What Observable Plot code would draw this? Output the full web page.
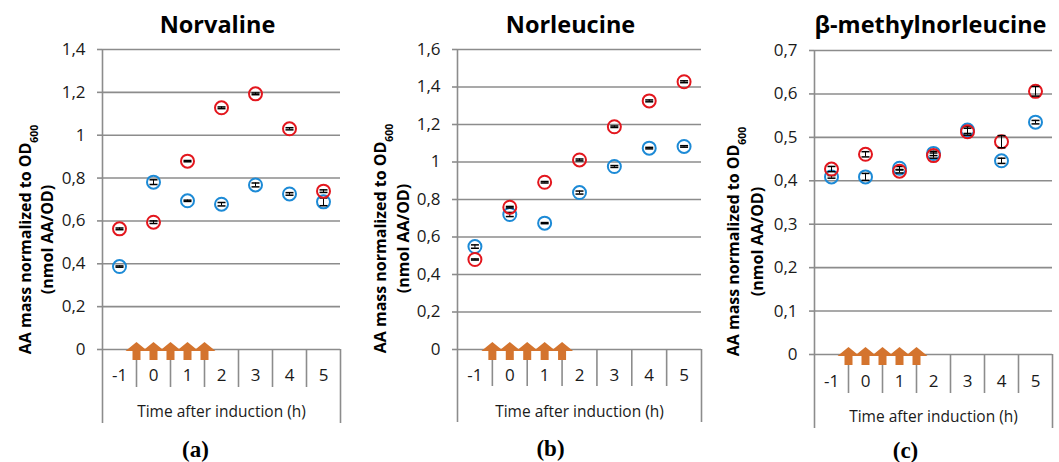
<!DOCTYPE html>
<html><head><meta charset="utf-8">
<script src="https://cdn.jsdelivr.net/npm/d3@7"></script>
<script src="https://cdn.jsdelivr.net/npm/@observablehq/plot@0.6"></script>
<style>
body{margin:0;background:#fff;}
#wrap{position:relative;width:1059px;height:462px;overflow:hidden;}
#wrap svg{position:absolute;top:0;}
</style></head><body><div id="wrap"></div>
<script>
// ---- data ----
const times = [-1, 0, 1, 2, 3, 4, 5];
const feedTimes = [-0.5, 0, 0.5, 1, 1.5];
const norvalineRed      = [0.563, 0.594, 0.879, 1.128, 1.193, 1.030, 0.739];
const norvalineRedErr   = [0.004, 0.006, 0.003, 0.004, 0.004, 0.005, 0.006];
const norvalineBlue     = [0.387, 0.781, 0.694, 0.678, 0.768, 0.726, 0.689];
const norvalineBlueErr  = [0.003, 0.011, 0.003, 0.008, 0.009, 0.006, 0.018];
const norleucineRed     = [0.480, 0.759, 0.892, 1.011, 1.188, 1.326, 1.428];
const norleucineRedErr  = [0.003, 0.004, 0.004, 0.005, 0.004, 0.005, 0.005];
const norleucineBlue    = [0.549, 0.720, 0.674, 0.837, 0.976, 1.074, 1.083];
const norleucineBlueErr = [0.009, 0.011, 0.003, 0.008, 0.005, 0.004, 0.004];
const bmnlRed           = [0.427, 0.461, 0.422, 0.458, 0.513, 0.490, 0.606];
const bmnlRedErr        = [0.006, 0.006, 0.004, 0.006, 0.008, 0.014, 0.011];
const bmnlBlue          = [0.409, 0.409, 0.429, 0.463, 0.517, 0.446, 0.535];
const bmnlBlueErr       = [0.003, 0.008, 0.004, 0.005, 0.008, 0.006, 0.004];
const titles = ["Norvaline", "Norleucine", "β-methylnorleucine"];
const captions = ["(a)", "(b)", "(c)"];
const yLabel1 = "AA mass normalized to OD";
const yLabelSub = "600";
const yLabel2 = "(nmol AA/OD)";
const xLabel = "Time after induction (h)";
const yMax = [1.4, 1.6, 0.7];
const yTickValues = [
  [0, 0.2, 0.4, 0.6, 0.8, 1, 1.2, 1.4],
  [0, 0.2, 0.4, 0.6, 0.8, 1, 1.2, 1.4, 1.6],
  [0, 0.1, 0.2, 0.3, 0.4, 0.5, 0.6, 0.7]
];

// ---- layout / style ----
const layout = [
  {left: 0,   width: 353, mt: 49, mb: 113, ml: 102, mr: 13, sep: 38, outer: 74, tickPad: 19, tdx: -4, tdy: -24, cdx: -26, cdy: 100, l1: -77, l2: -55, ldy: 40},
  {left: 353, width: 353, mt: 49, mb: 113, ml: 104, mr: 5,  sep: 37, outer: 73, tickPad: 19, tdx: -9, tdy: -24, cdx: -29, cdy: 99,  l1: -77, l2: -54, ldy: 39},
  {left: 706, width: 353, mt: 50, mb: 108, ml: 108, mr: 7,  sep: 39, outer: 74, tickPad: 20, tdx: -3, tdy: -25, cdx: -28, cdy: 96,  l1: -81, l2: -57, ldy: 39}
];
const gray = "#8c8c8c";
const redC = "#e3161d";
const blueC = "#1c8ad6";
const orange = "#d4742e";
const font = "Open Sans";

const panels = [
  {red: norvalineRed, redErr: norvalineRedErr, blue: norvalineBlue, blueErr: norvalineBlueErr},
  {red: norleucineRed, redErr: norleucineRedErr, blue: norleucineBlue, blueErr: norleucineBlueErr},
  {red: bmnlRed, redErr: bmnlRedErr, blue: bmnlBlue, blueErr: bmnlBlueErr}
];

const fmt = d => String(+(+d).toFixed(1)).replace(".", ",");
const capSymbol = {draw(ctx, size) { const r = Math.sqrt(size / Math.PI); ctx.moveTo(-r, 0); ctx.lineTo(r, 0); }};
const arrowSymbol = {draw(ctx, size) {
  const k = Math.sqrt(size / Math.PI) / 11;
  ctx.moveTo(0, -9 * k); ctx.lineTo(11 * k, 0); ctx.lineTo(4 * k, 0);
  ctx.lineTo(4 * k, 9 * k); ctx.lineTo(-4 * k, 9 * k); ctx.lineTo(-4 * k, 0);
  ctx.lineTo(-11 * k, 0); ctx.closePath();
}};

const xDomain = [times[0] - 0.5, times[times.length - 1] + 0.5];
const separators = times.slice(0, -1).map(t => t + 0.5);

function series(vals, errs, color) {
  const rows = times.map((t, i) => ({t, v: vals[i], e: errs[i]}));
  return [
    Plot.dot(rows, {x: "t", y: "v", r: 6.5, stroke: color, strokeWidth: 2, fill: "none"}),
    Plot.ruleX(rows, {x: "t", y1: d => d.v - d.e, y2: d => d.v + d.e, stroke: "#000", strokeWidth: 1}),
    Plot.dot(rows, {x: "t", y: d => d.v - d.e, r: 4, symbol: capSymbol, stroke: "#000", strokeWidth: 1.5, fill: "none"}),
    Plot.dot(rows, {x: "t", y: d => d.v + d.e, r: 4, symbol: capSymbol, stroke: "#000", strokeWidth: 1.5, fill: "none"})
  ];
}

const wrap = document.getElementById("wrap");
panels.forEach((p, k) => {
  const L = layout[k];
  const svg = Plot.plot({
    width: L.width, height: 462,
    marginTop: L.mt, marginBottom: L.mb, marginLeft: L.ml, marginRight: L.mr,
    style: {fontFamily: font, fontSize: "17px", color: "#1a1a1a", background: "white", overflow: "visible"},
    x: {domain: xDomain},
    y: {domain: [0, yMax[k]]},
    marks: [
      Plot.gridY(yTickValues[k], {stroke: gray, strokeOpacity: 1, strokeWidth: 1.6}),
      Plot.axisY(yTickValues[k], {tickSize: 5, tickPadding: 12, tickFormat: fmt, stroke: gray, strokeWidth: 1.6, label: null, fontSize: 17}),
      Plot.ruleX([xDomain[0]], {stroke: gray, strokeWidth: 1.6}),
      Plot.axisX(separators, {tickSize: L.sep, tickFormat: () => "", stroke: gray, strokeWidth: 1.6, label: null}),
      Plot.axisX(xDomain, {tickSize: L.outer, tickFormat: () => "", stroke: gray, strokeWidth: 1.6, label: null}),
      Plot.axisX(times, {tickSize: 0, tickPadding: L.tickPad, tickFormat: d => String(d), label: null, fontSize: 17}),
      Plot.dot(feedTimes, {x: d => d, y: 0, dy: 1.5, r: 11, symbol: arrowSymbol, fill: orange, stroke: "none"}),
      ...series(p.blue, p.blueErr, blueC),
      ...series(p.red, p.redErr, redC),
      Plot.text([titles[k]], {text: d => d, frameAnchor: "top", textAnchor: "middle", lineAnchor: "middle", dx: L.tdx, dy: L.tdy, fontSize: 23.5, fontWeight: "bold", fill: "#000"}),
      Plot.text([xLabel], {text: d => d, frameAnchor: "bottom", textAnchor: "middle", lineAnchor: "middle", dy: 63, fontSize: 15.5, fill: "#1a1a1a"}),
      Plot.text([captions[k]], {text: d => d, frameAnchor: "bottom", textAnchor: "middle", lineAnchor: "middle", dx: L.cdx, dy: L.cdy, fontSize: 23, fontWeight: "bold", fontFamily: "Liberation Serif", fill: "#000"}),
      Plot.text([yLabel1], {text: d => d, frameAnchor: "left", textAnchor: "middle", lineAnchor: "middle", rotate: -90, dx: L.l1, dy: L.ldy, fontSize: 16, fontWeight: "bold", fill: "#000", className: "ylab1"}),
      Plot.text([yLabel2], {text: d => d, frameAnchor: "left", textAnchor: "middle", lineAnchor: "middle", rotate: -90, dx: L.l2, dy: L.ldy, fontSize: 16, fontWeight: "bold", fill: "#000"})
    ]
  });
  d3.select(svg).select("g.ylab1 text").append("tspan")
    .attr("baseline-shift", "sub").attr("font-size", "10.5px").text(yLabelSub);
  svg.style.left = L.left + "px";
  wrap.appendChild(svg);
});
</script>
</body></html>
